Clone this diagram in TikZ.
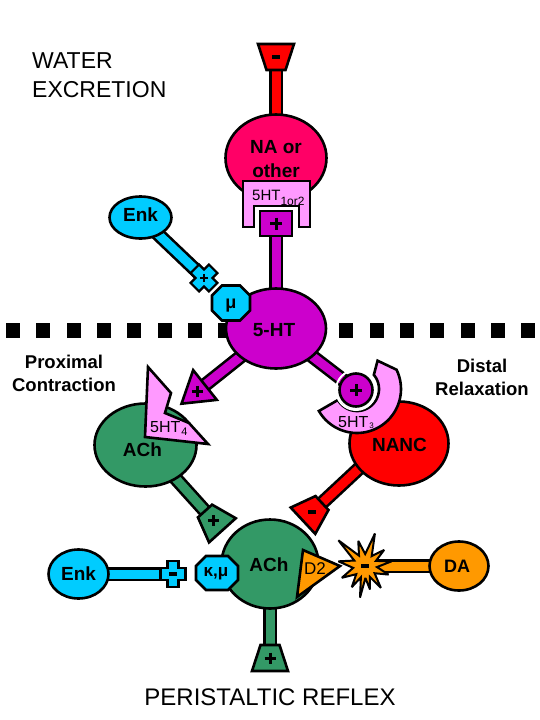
\documentclass[tikz,border=0pt]{standalone}
\usepackage{fontspec}
\setmainfont{Liberation Sans}
\usetikzlibrary{calc,shapes.geometric}
\definecolor{napink}{HTML}{FF0066}
\definecolor{redc}{HTML}{FF0000}
\definecolor{purp}{HTML}{CC00CC}
\definecolor{lpink}{HTML}{FF99FF}
\definecolor{cyanc}{HTML}{00CCFF}
\definecolor{greenc}{HTML}{339966}
\definecolor{orangec}{HTML}{FF9900}
\tikzset{
 outl/.style={draw=black, line width=2.6pt, line join=miter, miter limit=4},
 stemline/.style={line width=2.6pt, double=#1, double distance=9pt},
 blob/.style={ellipse, draw=black, line width=2.6pt, fill=#1, inner sep=0pt},
 lbl/.style={font=\fontsize{19}{22}\selectfont\bfseries, inner sep=0pt},
 rlbl/.style={font=\fontsize{16}{18}\selectfont, inner sep=0pt},
 bigtxt/.style={font=\fontsize{23}{26}\selectfont, inner sep=0pt},
 sidetxt/.style={font=\fontsize{18.5}{21}\selectfont\bfseries, inner sep=0pt},
 signline/.style={line width=3pt},
}
\newcommand{\plusmark}[2]{\draw[signline] ($(#1)+(-#2,0)$) -- ($(#1)+(#2,0)$) ($(#1)+(0,-#2)$) -- ($(#1)+(0,#2)$);}
\newcommand{\minusmark}[1]{\draw[line width=4pt] ($(#1)+(-4,0)$) -- ($(#1)+(4,0)$);}
\newcommand{\trapterm}[4]{%
 \coordinate (#4w) at ($(#2)!-26pt!(#1)$);
 \filldraw[outl, fill=#3] ($(#2)!9.5pt!90:(#1)$) -- ($(#4w)!18pt!90:(#2)$) -- ($(#4w)!18pt!-90:(#2)$) -- ($(#2)!9.5pt!-90:(#1)$) -- cycle;}
\begin{document}
\begin{tikzpicture}[x=1pt,y=-1pt]
\useasboundingbox (0,0) rectangle (540,720);
% key points
\coordinate (naC) at (276,158);
\coordinate (htC) at (276,328.5);
\coordinate (achUC) at (145.5,445);
\coordinate (nancC) at (399,443.5);
\coordinate (achLC) at (270,564);
\coordinate (enkTC) at (140.5,217.5);
\coordinate (enkLC) at (78.5,574);
\coordinate (daC) at (459,566);
\coordinate (topN) at (276,70);
\coordinate (botN) at (270,645);
\coordinate (grnN) at (205,511);
\coordinate (redS) at (366,462);
\coordinate (redN) at (322,503);
\coordinate (triB) at (205,385);
\coordinate (sqC) at (276,223.5);
\coordinate (circC) at (356,390);
\coordinate (crossT) at (204,278);
\coordinate (crossL) at (173,574);
\coordinate (burstC) at (365,566);
\coordinate (topM) at ($(topN)!-13pt!(naC)$);
\coordinate (botM) at ($(botN)!-13pt!(achLC)$);
\coordinate (grnM) at ($(grnN)!-13pt!(achUC)$);
\coordinate (redM) at ($(redN)!-13pt!(redS)$);
\coordinate (triM) at ($(triB)!-10pt!(htC)$);
% dotted boundary
\foreach \k in {0,...,17} \fill[black] ({6+30.3*\k},323) rectangle ++(14,15);
% stems
\draw[stemline=redc] (topM) -- (naC);
\draw[stemline=purp] (sqC) -- (htC);
\draw[stemline=cyanc] (enkTC) -- (crossT);
\draw[stemline=purp] (htC) -- (triM);
\draw[stemline=purp] (htC) -- (circC);
\draw[stemline=greenc] (achUC) -- (grnM);
\draw[stemline=redc] (redS) -- (redM);
\draw[stemline=greenc] (achLC) -- (botM);
\draw[stemline=cyanc] (enkLC) -- (crossL);
\draw[stemline=orangec] (burstC) -- (daC);
% cells
\node[blob=napink, minimum width=101pt, minimum height=87pt] (na) at (naC) {};
\node[blob=purp, minimum width=100pt, minimum height=80pt] (ht) at (htC) {};
\node[blob=greenc, minimum width=102pt, minimum height=83pt] (achU) at (achUC) {};
\node[blob=redc, minimum width=99pt, minimum height=84pt] (nanc) at (nancC) {};
\node[blob=greenc, minimum width=97pt, minimum height=89pt] (achL) at (achLC) {};
\node[blob=cyanc, minimum width=62pt, minimum height=42pt] (enkT) at (enkTC) {};
\node[blob=cyanc, minimum width=60pt, minimum height=49pt] (enkL) at (enkLC) {};
\node[blob=orangec, minimum width=59pt, minimum height=49pt] (da) at (daC) {};
% terminals
\trapterm{naC}{topN}{redc}{tt}
\minusmark{topM}
\trapterm{achLC}{botN}{greenc}{bt}
\plusmark{botM}{5.5}
\trapterm{achUC}{grnN}{greenc}{gt}
\plusmark{grnM}{5.5}
\trapterm{redS}{redN}{redc}{rt}
\minusmark{redM}
\filldraw[outl, fill=purp] ($(triB)!19pt!90:(htC)$) -- ($(triB)!-30pt!(htC)$) -- ($(triB)!19pt!-90:(htC)$) -- cycle;
\plusmark{triM}{5.5}
% 5HT1or2 receptor and purple terminal
\filldraw[outl, fill=lpink] (243,181) -- (310,181) -- (310,227) -- (299,227) -- (299,206) -- (254,206) -- (254,227) -- (243,227) -- cycle;
\filldraw[outl, fill=purp] (260,211) rectangle (292,236);
\plusmark{sqC}{6}
% 5HT4 receptor
\filldraw[outl, fill=lpink] (148,367) -- (171,393) -- (165,413) -- (189,423) -- (208,444) -- (145,437) -- cycle;
% 5HT3 receptor
\begin{scope}[shift={(357,389)}]
\filldraw[outl, fill=lpink] plot[domain=-26:150, samples=40] (\x:44) -- plot[domain=150:-40, samples=40] (\x:22) -- (-54:35) -- cycle;
\end{scope}
\draw[white, line width=2pt] (circC) circle[radius=20pt];
\node[circle, draw=black, line width=2.6pt, fill=purp, minimum size=33pt, inner sep=0pt] (c5) at (circC) {};
\plusmark{circC}{6}
% mu receptor
\filldraw[outl, fill=cyanc] (222,285.5) -- (240,285.5) -- (250,295.5) -- (250,310.5) -- (240,320.5) -- (222,320.5) -- (212,310.5) -- (212,295.5) -- cycle;
% kappa mu receptor
\filldraw[outl, fill=cyanc] (206,556) -- (228,556) -- (238,566) -- (238,580) -- (228,590) -- (206,590) -- (196,580) -- (196,566) -- cycle;
% cyan crosses
\begin{scope}[shift={(204,278)}, rotate=45]
\filldraw[outl, line width=2.2pt, fill=cyanc] (-6,-13) -- (6,-13) -- (6,-6) -- (13,-6) -- (13,6) -- (6,6) -- (6,13) -- (-6,13) -- (-6,6) -- (-13,6) -- (-13,-6) -- (-6,-6) -- cycle;
\end{scope}
\draw[line width=2.2pt] ($(crossT)+(-4,0)$) -- ($(crossT)+(4,0)$) ($(crossT)+(0,-4)$) -- ($(crossT)+(0,4)$);
\begin{scope}[shift={(173,574)}]
\filldraw[outl, line width=2.2pt, fill=cyanc] (-5.5,-13) -- (5.5,-13) -- (5.5,-6) -- (12.5,-6) -- (12.5,6) -- (5.5,6) -- (5.5,13) -- (-5.5,13) -- (-5.5,6) -- (-12.5,6) -- (-12.5,-6) -- (-5.5,-6) -- cycle;
\end{scope}
\draw[line width=3.5pt] ($(crossL)+(-4,0)$) -- ($(crossL)+(4,0)$);
% D2 receptor
\filldraw[outl, fill=orangec] (303,550) -- (340,566) -- (297,597) -- cycle;
% starburst
\begin{scope}[shift={(365,566)}]
\filldraw[line width=2pt, fill=orangec, line join=miter, miter limit=3] (-105:26) -- (-89:12) -- (-73:34) -- (-56:12) -- (-40:25) -- (-25:12) -- (-10:27) -- (5:12) -- (20:25) -- (37:12) -- (54:27) -- (66:12) -- (78:24) -- (88:12) -- (99:32) -- (110:12) -- (122:25) -- (137:12) -- (153:26) -- (171:12) -- (190:27) -- (207:12) -- (224:37) -- (240:12) -- cycle;
\end{scope}
\minusmark{burstC}
% labels
\node[lbl, anchor=base] (tna1) at (276,153) {NA or};
\node[lbl, anchor=base] (tna2) at (276,177) {other};
\node[anchor=base west, inner sep=0pt, font=\fontsize{15}{17}\selectfont] (t12) at (252,200) {5HT\raisebox{-5pt}{\fontsize{12}{12}\selectfont 1or2}};
\node[lbl] (tht) at (274,330) {5-HT};
\node[lbl] (tenkT) at (140.5,215) {Enk};
\node[lbl, font=\fontsize{18}{20}\selectfont\bfseries] (tmu) at (231,306) {μ};
\node[anchor=base west, inner sep=0pt, font=\fontsize{16}{18}\selectfont] (t4) at (150,432) {5HT\kern1pt\raisebox{-3pt}{\fontsize{11}{12}\selectfont 4}};
\node[anchor=base west, inner sep=0pt, font=\fontsize{16}{18}\selectfont] (t3) at (338,427) {5HT\kern1pt\raisebox{-1pt}{\fontsize{8}{9}\selectfont 3}};
\node[lbl] (tachU) at (142.5,450) {ACh};
\node[lbl] (tnanc) at (399.5,445) {NANC};
\node[lbl] (tachL) at (269,565) {ACh};
\node[lbl] (tenkL) at (78.5,574) {Enk};
\node[lbl, font=\fontsize{17}{19}\selectfont\bfseries] (tkm) at (216,574) {κ,μ};
\node[rlbl, font=\fontsize{17}{19}\selectfont] (td2) at (315,569) {D2};
\node[lbl, font=\fontsize{18}{20}\selectfont\bfseries] (tda) at (457,566) {DA};
% captions
\node[bigtxt, anchor=base west] (cap1) at (32,68) {WATER};
\node[bigtxt, anchor=base west] (cap2) at (32,97) {EXCRETION};
\node[sidetxt, anchor=base] (cap3) at (64,368) {Proximal};
\node[sidetxt, anchor=base] (cap4) at (64,391) {Contraction};
\node[sidetxt, anchor=base] (cap5) at (482,372) {Distal};
\node[sidetxt, anchor=base] (cap6) at (482,395) {Relaxation};
\node[inner sep=0pt, font=\fontsize{24}{26}\selectfont, anchor=base] (cap7) at (270,705) {PERISTALTIC REFLEX};
\end{tikzpicture}
\end{document}
